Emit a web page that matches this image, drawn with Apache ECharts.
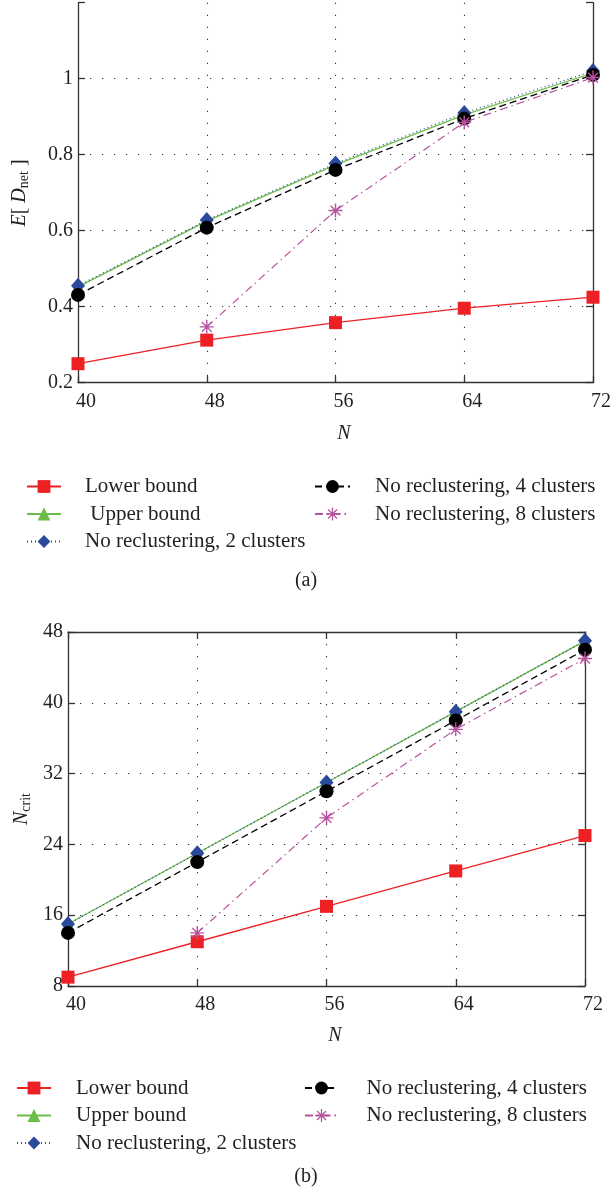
<!DOCTYPE html>
<html><head><meta charset="utf-8">
<script src="https://cdn.jsdelivr.net/npm/echarts@6/dist/echarts.min.js"></script>
<style>
html,body{margin:0;padding:0;background:#fff;}
#a{position:absolute;left:0;top:0;width:614px;height:600px;}
#b{position:absolute;left:0;top:600px;width:614px;height:595px;}
</style>
</head><body><div id="a"></div><div id="b"></div>
<script>
// ---- data ----
const nValues = [40, 48, 56, 64, 72];
const seriesNames = ['Lower bound', 'Upper bound', 'No reclustering, 2 clusters', 'No reclustering, 4 clusters', 'No reclustering, 8 clusters'];
// (a) E[D_net]
const aLower = [0.25, 0.312, 0.358, 0.396, 0.425];
const aUpper = [0.452, 0.625, 0.773, 0.905, 1.015];
const aNoRe2 = [0.455, 0.628, 0.777, 0.91, 1.02];
const aNoRe4 = [0.431, 0.608, 0.76, 0.895, 1.01];
const aNoRe8 = [null, 0.347, 0.653, 0.885, 1.003];
const aYTicks = [0.2, 0.4, 0.6, 0.8, 1.0, 1.2];
// (b) N_crit
const bLower = [9, 13, 17, 21, 25];
const bUpper = [15, 23, 31, 39, 47];
const bNoRe2 = [15, 23, 31, 39, 47];
const bNoRe4 = [14, 22, 30, 38, 46];
const bNoRe8 = [null, 14, 27, 37, 45];
const bYTicks = [8, 16, 24, 32, 40, 48];
const xTicks = [40, 48, 56, 64, 72];

// ---- styles ----
const FONT = 'Liberation Serif';
const TXT = '#231f20';
const AX = '#333333';
const GRIDC = '#333333';
const ASTERISK = 'path://M-0.6 -6 L0.6 -6 L0.6 6 L-0.6 6 Z M-6 -0.6 L6 -0.6 L6 0.6 L-6 0.6 Z M-3.8 -4.6 L4.6 3.8 L3.8 4.6 L-4.6 -3.8 Z M3.8 -4.6 L4.6 -3.8 L-3.8 4.6 L-4.6 3.8 Z';
const styles = [
  {color: '#ed2024', symbol: 'rect', size: 13, width: 1.3, type: 'solid'},
  {color: '#6cbd45', symbol: 'triangle', size: 12, width: 1.3, type: 'solid'},
  {color: '#2b4a9b', symbol: 'diamond', size: [14, 16], width: 1.2, type: [1, 3]},
  {color: '#000000', symbol: 'circle', size: 14, width: 1.3, type: [7, 4]},
  {color: '#b8529f', symbol: ASTERISK, size: 14, width: 1.2, type: [8, 4, 1.5, 4]}
];

function mkSeries(vals) {
  return vals.map((v, k) => ({
    type: 'line', name: seriesNames[k],
    data: nValues.map((n, i) => v[i] == null ? null : [n, v[i]]).filter(d => d),
    symbol: styles[k].symbol, symbolSize: styles[k].size, symbolKeepAspect: true,
    itemStyle: {color: styles[k].color},
    lineStyle: {color: styles[k].color, width: styles[k].width, type: styles[k].type},
    clip: false, z: 3 + k, animation: false
  }));
}

function xAxisCfg(showTop) {
  const base = {
    type: 'value', min: xTicks[0], max: xTicks[xTicks.length - 1], interval: xTicks[1] - xTicks[0],
    axisLine: {show: true, onZero: false, lineStyle: {color: AX, width: 1.3}},
    axisTick: {show: true, inside: true, length: 7, lineStyle: {color: AX, width: 1.3}}
  };
  const axes = [Object.assign({}, base, {
    position: 'bottom',
    axisLabel: {fontSize: 20, fontFamily: FONT, color: TXT, margin: 9, padding: [0, 0, 0, 16]},
    splitLine: {show: true, showMinLine: false, showMaxLine: false, lineStyle: {color: GRIDC, width: 1.1, type: [1.2, 10.8]}}
  })];
  if (showTop) axes.push(Object.assign({}, base, {position: 'top', axisLabel: {show: false}, splitLine: {show: false}}));
  return axes;
}
function yAxisCfg(ticks, hideTopLabel) {
  const base = {
    type: 'value', min: ticks[0], max: ticks[ticks.length - 1], interval: ticks[1] - ticks[0],
    axisLine: {show: true, onZero: false, lineStyle: {color: AX, width: 1.3}},
    axisTick: {show: true, inside: true, length: 7, lineStyle: {color: AX, width: 1.3}}
  };
  const top = ticks[ticks.length - 1];
  return [
    Object.assign({}, base, {position: 'left',
      axisLabel: {fontSize: 20, fontFamily: FONT, color: TXT, margin: 5,
        formatter: v => (hideTopLabel && Math.abs(v - top) < 1e-9) ? '' : String(+v.toFixed(4))},
      splitLine: {show: true, showMinLine: false, showMaxLine: false, lineStyle: {color: GRIDC, width: 1.1, type: [1.2, 10.8]}}}),
    Object.assign({}, base, {position: 'right', axisLabel: {show: false}, splitLine: {show: false}})
  ];
}
function legendCfg(names, left, top, itemWidth, pad, leadSpace) {
  return {
    data: names, left: left, top: top, orient: 'vertical', selectedMode: false, padding: 0,
    itemWidth: itemWidth, itemHeight: 16, itemGap: 6.5,
    textStyle: {fontSize: 21, fontFamily: FONT, color: TXT, lineHeight: 20, padding: [0, 0, 0, pad]},
    formatter: n => (leadSpace && n === 'Upper bound') ? ' ' + n : n
  };
}
function txt(x, y, text, extra) {
  return Object.assign({type: 'text', x: x, y: y,
    style: Object.assign({text: text, fontSize: 20, fontFamily: FONT, fill: TXT, align: 'center', verticalAlign: 'middle'}, extra && extra.style || {})},
    extra && extra.rest || {});
}

// ---- chart (a) ----
const chartA = echarts.init(document.getElementById('a'), null, {renderer: 'canvas'});
chartA.setOption({
  animation: false,
  grid: {left: 78, top: 2.7, width: 516, height: 380},
  xAxis: xAxisCfg(false),
  yAxis: yAxisCfg(aYTicks, true),
  legend: [
    legendCfg(seriesNames.slice(0, 3), 26, 476, 34, 19, true),
    legendCfg(seriesNames.slice(3), 314, 476, 35, 20, false)
  ],
  series: mkSeries([aLower, aUpper, aNoRe2, aNoRe4, aNoRe8]),
  graphic: [
    {type: 'text', x: 20, y: 193, rotation: Math.PI / 2,
      style: {text: '{i|E}[ {i|D}{s|net} ]', fontSize: 20, fontFamily: FONT, fill: TXT, align: 'center', verticalAlign: 'middle',
        rich: {i: {fontStyle: 'italic', fontSize: 20, fontFamily: FONT, fill: TXT, lineHeight: 22},
               s: {fontSize: 14, fontFamily: FONT, fill: TXT, verticalAlign: 'bottom', lineHeight: 14, padding: [8, 0, 0, 0]}}}},
    txt(344, 434, 'N', {style: {fontStyle: 'italic'}}),
    txt(306, 581, '(a)')
  ]
});

// ---- chart (b) ----
const chartB = echarts.init(document.getElementById('b'), null, {renderer: 'canvas'});
chartB.setOption({
  animation: false,
  grid: {left: 68, top: 32, width: 517, height: 354},
  xAxis: xAxisCfg(true),
  yAxis: yAxisCfg(bYTicks, false),
  legend: [
    legendCfg(seriesNames.slice(0, 3), 16, 477.5, 34, 20, false),
    legendCfg(seriesNames.slice(3), 304, 477.5, 33, 23.5, false)
  ],
  series: mkSeries([bLower, bUpper, bNoRe2, bNoRe4, bNoRe8]),
  graphic: [
    {type: 'text', x: 22, y: 209, rotation: Math.PI / 2,
      style: {text: '{i|N}{s|crit}', fontSize: 20, fontFamily: FONT, fill: TXT, align: 'center', verticalAlign: 'middle',
        rich: {i: {fontStyle: 'italic', fontSize: 20, fontFamily: FONT, fill: TXT, lineHeight: 22},
               s: {fontSize: 14, fontFamily: FONT, fill: TXT, verticalAlign: 'bottom', lineHeight: 14, padding: [8, 0, 0, 0]}}}},
    txt(335, 436, 'N', {style: {fontStyle: 'italic'}}),
    txt(306, 577, '(b)')
  ]
});
</script>
</body></html>
